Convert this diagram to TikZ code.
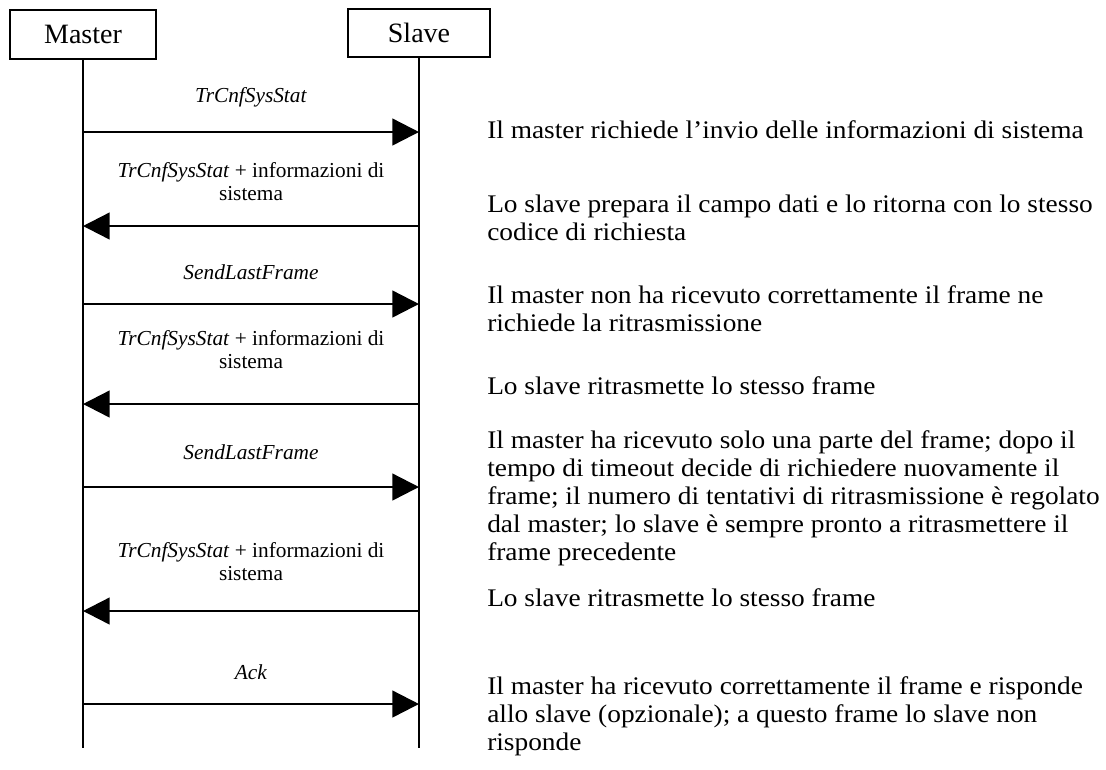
\documentclass[tikz,border=0pt]{standalone}
\usepackage{fontspec}
\setmainfont{Liberation Serif}
\newfontfamily\widefont[FakeStretch=1.08]{Liberation Serif}
\usetikzlibrary{positioning,arrows.meta}

\tikzset{
  actor/.style={draw, line width=1.5pt, minimum width=110pt, minimum height=36.5pt, inner sep=0pt, font=\fontsize{21}{24}\selectfont},
  life/.style={line width=1.5pt},
  msg/.style={line width=1.8pt, -{Triangle[length=20pt,width=20pt]}},
  lbl/.style={align=center, inner sep=0pt, font=\fontsize{16}{17.25}\selectfont},
  note/.style={anchor=west, align=left, inner sep=0pt, font=\widefont\fontsize{19}{21}\selectfont},
}

\begin{document}
\begin{tikzpicture}[x=0.75pt,y=-0.75pt]
    \useasboundingbox (0,0) rectangle (1106,769);

    % Master and Slave
    \node[actor] (master) at (83,34.5) {Master};
    \node[actor, minimum width=107pt, minimum height=36pt] (slave) at (419,33) {Slave};
    \coordinate (mend) at (83,748);
    \coordinate (send) at (419,748);
    \draw[life] (master) -- (mend);
    \draw[life] (slave) -- (send);

    % points on the lifelines
    \foreach \y [count=\i] in {132, 226, 304, 404, 487, 611, 704} {
        \coordinate (m\i) at (83,\y);
        \coordinate (s\i) at (419,\y);
    }

    % Messages
    \foreach \a/\b in {m1/s1, s2/m2, m3/s3, s4/m4, m5/s5, s6/m6, m7/s7}
        \draw[msg] (\a) -- (\b);

    % Labels
    \node[lbl] (lbl1) at (251,97) {\textit{TrCnfSysStat}};
    \node[lbl] (lbl2) at (251,181.5) {\textit{TrCnfSysStat} + informazioni di\\sistema};
    \node[lbl] (lbl3) at (251,272) {\textit{SendLastFrame}};
    \node[lbl] (lbl4) at (251,350) {\textit{TrCnfSysStat} + informazioni di\\sistema};
    \node[lbl] (lbl5) at (251,452) {\textit{SendLastFrame}};
    \node[lbl] (lbl6) at (251,561.5) {\textit{TrCnfSysStat} + informazioni di\\sistema};
    \node[lbl] (lbl7) at (251,672) {\textit{Ack}};

    % Descriptions
    \node[note] (note1) at (487,130) {Il master richiede l’invio delle informazioni di sistema};
    \node[note] (note2) at (487,217.5) {Lo slave prepara il campo dati e lo ritorna con lo stesso\\codice di richiesta};
    \node[note] (note3) at (487,309) {Il master non ha ricevuto correttamente il frame ne\\richiede la ritrasmissione};
    \node[note] (note4) at (487,386) {Lo slave ritrasmette lo stesso frame};
    \node[note] (note5) at (487,498) {Il master ha ricevuto solo una parte del frame; dopo il\\tempo di timeout decide di richiedere nuovamente il\\frame; il numero di tentativi di ritrasmissione è regolato\\dal master; lo slave è sempre pronto a ritrasmettere il\\frame precedente};
    \node[note] (note6) at (487,598) {Lo slave ritrasmette lo stesso frame};
    \node[note] (note7) at (487,716) {Il master ha ricevuto correttamente il frame e risponde\\allo slave (opzionale); a questo frame lo slave non\\risponde};
\end{tikzpicture}
\end{document}
